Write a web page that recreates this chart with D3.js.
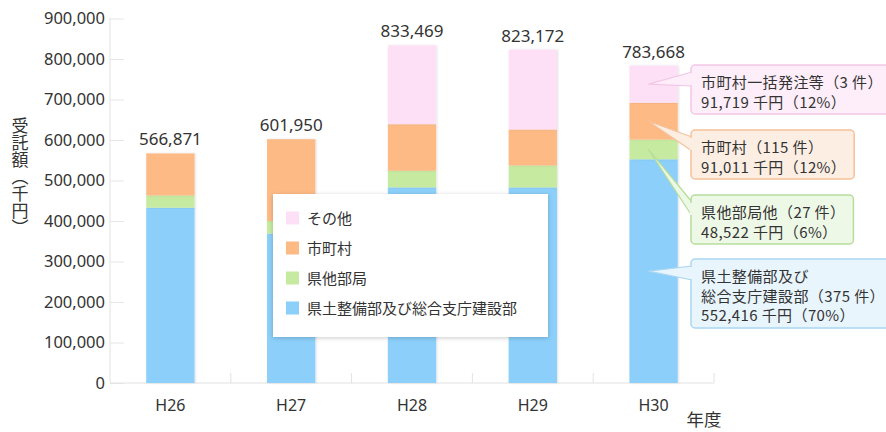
<!DOCTYPE html>
<html>
<head>
<meta charset="utf-8">
<script src="https://cdn.jsdelivr.net/npm/d3@7"></script>
<style>
  body { margin: 0; background: #fff; }
  svg { font-family: "Noto Sans CJK JP", "Noto Sans", sans-serif; }
</style>
</head>
<body>
<svg id="chart" width="886" height="432"></svg>
<script>
const years = ["H26", "H27", "H28", "H29", "H30"];
const kenDoboku = [433000, 369000, 483000, 483000, 552416];
const kenTa = [30000, 31000, 41000, 54000, 48522];
const shichoson = [103871, 201950, 115000, 89000, 91011];
const sonota = [0, 0, 194469, 197172, 91719];

const seriesNames = ["県土整備部及び総合支庁建設部", "県他部局", "市町村", "その他"];
const seriesColors = ["#8bcffa", "#c6eba0", "#fdba85", "#fde0f5"];

const yTicks = [0, 100000, 200000, 300000, 400000, 500000, 600000, 700000, 800000, 900000];

// H30 callouts, bottom series first
const calloutLines = [
  ["県土整備部及び", "総合支庁建設部（375 件）", "552,416 千円（70%）"],
  ["県他部局他（27 件）", "48,522 千円（6%）"],
  ["市町村（115 件）", "91,011 千円（12%）"],
  ["市町村一括発注等（3 件）", "91,719 千円（12%）"]
];
const calloutFill = ["#e9f5fd", "#eef8e7", "#fdeee3", "#fdeef9"];
const calloutStroke = ["#a9d6f2", "#b6dd9b", "#f5c29b", "#f3c6e6"];
const calloutTop = [259, 195, 130, 65];

const numFont = "'Noto Sans', 'Noto Sans CJK JP', sans-serif";
const svg = d3.select("#chart");

const defs = svg.append("defs");
const sh = defs.append("filter").attr("id", "shadow")
  .attr("x", "-10%").attr("y", "-10%").attr("width", "120%").attr("height", "130%");
sh.append("feDropShadow").attr("dx", 0).attr("dy", 1).attr("stdDeviation", 2)
  .attr("flood-color", "#000").attr("flood-opacity", 0.2);
const shs = defs.append("filter").attr("id", "shadowSmall")
  .attr("x", "-10%").attr("y", "-10%").attr("width", "130%").attr("height", "120%");
shs.append("feDropShadow").attr("dx", 1).attr("dy", 0).attr("stdDeviation", 1)
  .attr("flood-color", "#000").attr("flood-opacity", 0.12);

const x = d3.scaleBand().domain(years).range([110, 714])
  .paddingInner(0.6).paddingOuter(0.3);
const y = d3.scaleLinear().domain([0, 900000]).range([383, 18.5]);

const rows = years.map((yr, i) => ({
  year: yr, s0: kenDoboku[i], s1: kenTa[i], s2: shichoson[i], s3: sonota[i]
}));
const stacked = d3.stack().keys(["s0", "s1", "s2", "s3"])(rows);

// y axis
const yAxis = d3.axisLeft(y).tickValues(yTicks).tickSize(-14).tickPadding(5)
  .tickFormat(d3.format(","));
const gy = svg.append("g").attr("transform", "translate(110,0)").call(yAxis);
gy.select(".domain").attr("stroke", "#e2e2e2").attr("d", `M0,${y(0)}V${y(900000) - 1}`);
gy.selectAll(".tick line").attr("stroke", "#e6e6e6");
gy.selectAll(".tick text").attr("fill", "#333").style("font-size", "16.5px")
  .style("font-family", numFont);

// x axis baseline and category boundaries
svg.append("line").attr("x1", 110).attr("x2", 714).attr("y1", y(0)).attr("y2", y(0))
  .attr("stroke", "#e2e2e2");
const bounds = years.slice(1).map(d => x(d) - x.step() * x.paddingOuter()).concat([714]);
svg.selectAll("line.bound").data(bounds).enter().append("line")
  .attr("class", "bound")
  .attr("x1", d => d).attr("x2", d => d)
  .attr("y1", y(0)).attr("y2", y(0) - 10)
  .attr("stroke", "#e2e2e2");

svg.selectAll("text.xlab").data(years).enter().append("text")
  .attr("class", "xlab")
  .attr("x", d => x(d) + x.bandwidth() / 2)
  .attr("y", 411)
  .attr("text-anchor", "middle")
  .attr("fill", "#333")
  .style("font-size", "16px")
  .style("font-family", numFont)
  .text(d => d);

svg.append("text").attr("x", 704).attr("y", 426).attr("text-anchor", "middle")
  .attr("fill", "#333").style("font-size", "17.5px").text("年度");

// y title
svg.append("text")
  .attr("x", 20).attr("y", 117)
  .style("writing-mode", "vertical-rl")
  .attr("fill", "#333").style("font-size", "17px")
  .text("受託額（千円）");

// bars
svg.append("g").selectAll("g").data(stacked).enter().append("g")
  .attr("fill", (d, i) => seriesColors[i])
  .selectAll("rect").data(d => d).enter().append("rect")
  .attr("x", d => x(d.data.year))
  .attr("width", x.bandwidth())
  .attr("y", d => y(d[1]))
  .attr("height", d => y(d[0]) - y(d[1]))
  .attr("filter", "url(#shadowSmall)");

// totals
svg.selectAll("text.total").data(rows).enter().append("text")
  .attr("class", "total")
  .attr("x", d => x(d.year) + x.bandwidth() / 2)
  .attr("y", d => y(d.s0 + d.s1 + d.s2 + d.s3) - 8)
  .attr("text-anchor", "middle")
  .attr("fill", "#333")
  .style("font-size", "17px")
  .style("font-family", numFont)
  .text(d => d3.format(",")(d.s0 + d.s1 + d.s2 + d.s3));

// legend
const legend = svg.append("g").attr("transform", "translate(273,194)");
legend.append("rect").attr("width", 275).attr("height", 143)
  .attr("fill", "#fff").attr("filter", "url(#shadow)");
const legendOrder = [3, 2, 1, 0];
legendOrder.forEach((k, i) => {
  const g = legend.append("g").attr("transform", `translate(13,${24 + i * 30})`);
  g.append("rect").attr("y", -6.5).attr("width", 13).attr("height", 13)
    .attr("fill", seriesColors[k]);
  g.append("text").attr("x", 21).attr("y", 5.5).attr("fill", "#333")
    .style("font-size", "15px").text(seriesNames[k]);
});

// H30 callouts
const last = stacked.map(s => s[s.length - 1]);
const boxX = 691;
const tipX = x("H30") + 19;
calloutLines.forEach((lines, i) => {
  const g = svg.append("g");
  const top = calloutTop[i];
  const seg = last[i];
  const tipY = (y(seg[0]) + y(seg[1])) / 2;
  g.append("path")
    .attr("d", `M${boxX + 1},${top + 7}L${tipX},${tipY}L${boxX + 1},${top + 21}`)
    .attr("fill", calloutFill[i]).attr("stroke", calloutStroke[i]).attr("stroke-width", 1.2);
  const box = g.append("rect");
  const tg = g.append("g");
  lines.forEach((t, j) => {
    tg.append("text").attr("x", boxX + 10).attr("y", top + 23 + j * 19.5)
      .attr("fill", "#333").style("font-size", "15px")
      .style("letter-spacing", "0.4px").text(t);
  });
  const bb = tg.node().getBBox();
  box.attr("x", boxX).attr("y", top)
    .attr("width", bb.width + 18)
    .attr("height", lines.length * 20 + 9)
    .attr("rx", 4)
    .attr("fill", calloutFill[i]).attr("stroke", calloutStroke[i]).attr("stroke-width", 1.5);
  g.insert("line", "g")
    .attr("x1", boxX).attr("x2", boxX)
    .attr("y1", top + 8).attr("y2", top + 20)
    .attr("stroke", calloutFill[i]).attr("stroke-width", 2.5);
});
</script>
</body>
</html>
